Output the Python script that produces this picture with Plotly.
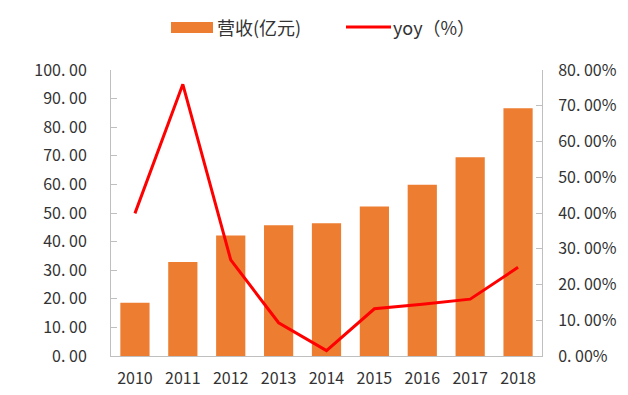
import plotly.graph_objects as go

years = ["2010", "2011", "2012", "2013", "2014", "2015", "2016", "2017", "2018"]
revenue = [18.6, 32.9, 42.1, 45.7, 46.4, 52.3, 59.9, 69.5, 86.6]
yoy = [0.399, 0.760, 0.269, 0.093, 0.015, 0.132, 0.145, 0.159, 0.248]

left_tick_vals = [0, 10, 20, 30, 40, 50, 60, 70, 80, 90, 100]
left_tick_text = ["0. 00", "10. 00", "20. 00", "30. 00", "40. 00", "50. 00",
                  "60. 00", "70. 00", "80. 00", "90. 00", "100. 00"]
right_tick_vals = [0, 0.1, 0.2, 0.3, 0.4, 0.5, 0.6, 0.7, 0.8]
right_tick_text = ["0. 00%", "10. 00%", "20. 00%", "30. 00%", "40. 00%",
                   "50. 00%", "60. 00%", "70. 00%", "80. 00%"]

bar_name = "营收(亿元)"
line_name = "yoy（%）"
BAR_COLOR = "#ED7D31"
LINE_COLOR = "#FF0000"
FONT = "Noto Sans CJK SC"
TXT = "#333333"
AX = "#BFBFBF"

fig = go.Figure()
fig.add_trace(go.Bar(x=years, y=revenue, name=bar_name, marker_color=BAR_COLOR,
                     marker_line_width=0, yaxis="y"))
fig.add_trace(go.Scatter(x=years, y=yoy, name=line_name, mode="lines",
                         line=dict(color=LINE_COLOR, width=3), yaxis="y2"))

axis_common = dict(showgrid=False, zeroline=False, showline=True, linecolor=AX,
                   linewidth=1, ticks="inside", ticklen=6, tickcolor=AX,
                   automargin=False,
                   tickfont=dict(family=FONT, size=16, color=TXT))

fig.update_layout(
    width=628, height=395,
    margin=dict(l=111, r=86, t=70, b=39),
    paper_bgcolor="white", plot_bgcolor="white",
    showlegend=False,
    bargap=0.39,
    font=dict(family=FONT, color=TXT),
    xaxis=dict(showgrid=False, showline=True, linecolor=AX, linewidth=1,
               ticks="", ticklabelstandoff=8, automargin=False,
               tickfont=dict(family=FONT, size=16, color=TXT)),
    yaxis=dict(range=[0, 100], tickvals=left_tick_vals, ticktext=left_tick_text,
               ticklabelstandoff=20, **axis_common),
    yaxis2=dict(range=[0, 0.8], tickvals=right_tick_vals, ticktext=right_tick_text,
                ticklabelstandoff=12, overlaying="y", side="right", **axis_common),
)

# legend drawn at the top
px_x = lambda px: (px - 111) / 431
px_y = lambda py: (356 - py) / 286
fig.add_shape(type="rect", xref="paper", yref="paper",
              x0=px_x(171), x1=px_x(213), y0=px_y(33), y1=px_y(22),
              fillcolor=BAR_COLOR, line_width=0)
fig.add_annotation(xref="paper", yref="paper", x=px_x(215), y=px_y(27),
                   text=bar_name, showarrow=False, xanchor="left", yanchor="middle",
                   font=dict(family=FONT, size=18, color=TXT))
fig.add_shape(type="line", xref="paper", yref="paper",
              x0=px_x(346), x1=px_x(391), y0=px_y(27), y1=px_y(27),
              line=dict(color=LINE_COLOR, width=3))
fig.add_annotation(xref="paper", yref="paper", x=px_x(391), y=px_y(27),
                   text=line_name, showarrow=False, xanchor="left", yanchor="middle",
                   font=dict(family=FONT, size=18, color=TXT))

fig.write_html("out.html", config={"displayModeBar": False},
               post_script="document.body.style.margin='0';")
